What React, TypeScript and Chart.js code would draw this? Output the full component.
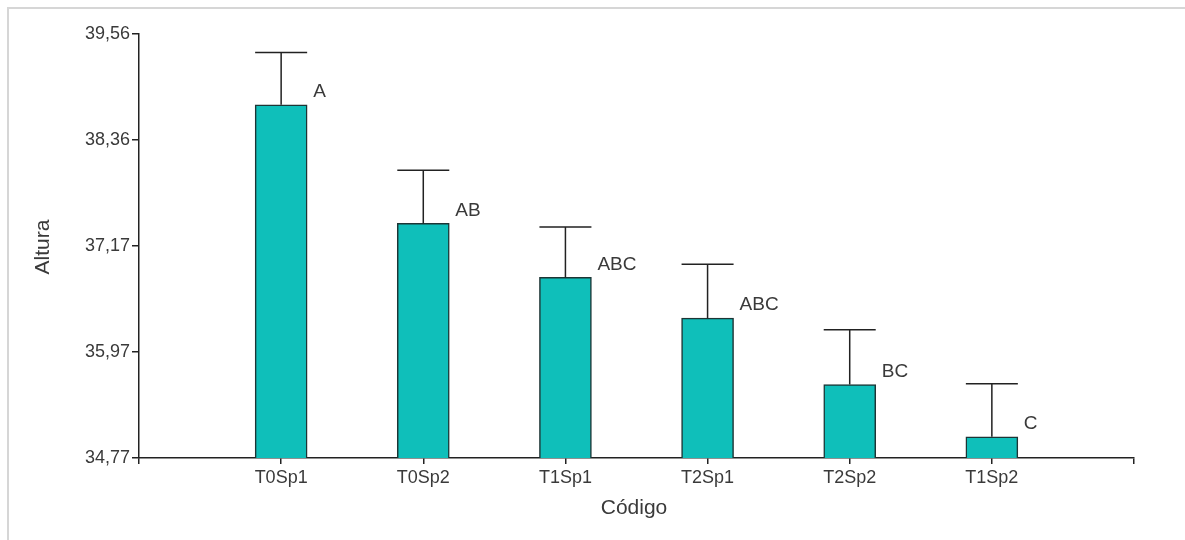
import React, { useEffect, useRef } from "react";
import { Chart, registerables } from "chart.js";

Chart.register(...registerables);

const categories = ["T0Sp1", "T0Sp2", "T1Sp1", "T2Sp1", "T2Sp2", "T1Sp2"];
const means = [38.76, 37.42, 36.81, 36.35, 35.6, 35.01];
const upperErr = [39.35, 38.02, 37.38, 36.96, 36.22, 35.61];
const letters = ["A", "AB", "ABC", "ABC", "BC", "C"];
const yTicks = [34.77, 35.97, 37.17, 38.36, 39.56];
const yMin = 34.77;
const yMax = 39.56;

const FONT = "'Liberation Sans', Arial, sans-serif";
const AXIS = "#222222";
const TEXT = "#3a3a3a";

export default function App() {
  const ref = useRef<HTMLCanvasElement | null>(null);

  useEffect(() => {
    const canvas = ref.current;
    if (!canvas) return;
    const labels = ["", ...categories, ""];
    const data = [null, ...means, null];
    const upper = [null, ...upperErr, null];
    const lets = [null, ...letters, null];

    const extras = {
      id: "extras",
      beforeDraw(chart: any) {
        const ctx = chart.ctx;
        ctx.save();
        ctx.fillStyle = "#ffffff";
        ctx.fillRect(0, 0, chart.width, chart.height);
        ctx.strokeStyle = "#d6d6d6";
        ctx.lineWidth = 2;
        ctx.beginPath();
        ctx.moveTo(8, chart.height);
        ctx.lineTo(8, 8);
        ctx.lineTo(chart.width, 8);
        ctx.stroke();
        ctx.restore();
      },
      afterDatasetsDraw(chart: any) {
        const ctx = chart.ctx;
        const meta = chart.getDatasetMeta(0);
        const ys = chart.scales.y;
        ctx.save();
        ctx.strokeStyle = AXIS;
        ctx.lineWidth = 1.5;
        meta.data.forEach((bar: any, i: number) => {
          const u = upper[i];
          if (u == null || data[i] == null) return;
          const x = bar.x;
          const top = bar.y;
          const yu = ys.getPixelForValue(u);
          const half = bar.width / 2;
          ctx.beginPath();
          ctx.moveTo(x, top);
          ctx.lineTo(x, yu);
          ctx.moveTo(x - half, yu);
          ctx.lineTo(x + half, yu);
          ctx.stroke();
          ctx.fillStyle = TEXT;
          ctx.font = `19px ${FONT}`;
          ctx.textAlign = "left";
          ctx.textBaseline = "middle";
          ctx.fillText(String(lets[i]), x + 32, top - 13);
        });
        // axis titles
        ctx.fillStyle = TEXT;
        ctx.font = `21px ${FONT}`;
        ctx.textAlign = "center";
        ctx.textBaseline = "middle";
        ctx.fillText("Código", 634, 508);
        ctx.translate(43, 247);
        ctx.rotate(-Math.PI / 2);
        ctx.fillText("Altura", 0, 0);
        ctx.restore();
      },
    };

    const chart = new Chart(canvas, {
      type: "bar",
      data: {
        labels,
        datasets: [
          {
            data: data as any,
            backgroundColor: "#0FBFBA",
            borderColor: "#1d3535",
            borderWidth: 1.5,
            barThickness: 52,
            borderSkipped: "bottom",
          },
        ],
      },
      options: {
        responsive: false,
        animation: false,
        layout: { padding: { left: 0, top: 34, right: 51, bottom: 0 } },
        plugins: {
          legend: { display: false },
          tooltip: { enabled: false },
          title: { display: false },
        },
        scales: {
          x: {
            type: "category",
            offset: false,
            grid: {
              offset: false,
              drawOnChartArea: false,
              drawTicks: true,
              tickLength: 6,
              color: AXIS,
              lineWidth: 1.5,
            },
            border: { color: AXIS, width: 1.5 },
            ticks: {
              color: TEXT,
              font: { family: FONT, size: 18 },
              padding: 3,
              maxRotation: 0,
              autoSkip: false,
            },
            afterFit(scale: any) {
              scale.height = 82;
            },
          },
          y: {
            type: "linear",
            min: yMin,
            max: yMax,
            grid: {
              drawOnChartArea: false,
              drawTicks: true,
              tickLength: 7,
              color: AXIS,
              lineWidth: 1.5,
            },
            border: { color: AXIS, width: 1.5 },
            ticks: {
              color: TEXT,
              font: { family: FONT, size: 18 },
              padding: 2,
              callback: (v: any) => Number(v).toFixed(2).replace(".", ","),
            },
            afterBuildTicks(scale: any) {
              scale.ticks = yTicks.map((v) => ({ value: v }));
            },
            afterFit(scale: any) {
              scale.width = 139;
            },
          },
        },
      },
      plugins: [extras],
    });
    return () => chart.destroy();
  }, []);

  return (
    <div style={{ position: "fixed", left: 0, top: 0, width: 1185, height: 540, background: "#fff" }}>
      <canvas ref={ref} width={1185} height={540} style={{ display: "block" }} />
    </div>
  );
}
